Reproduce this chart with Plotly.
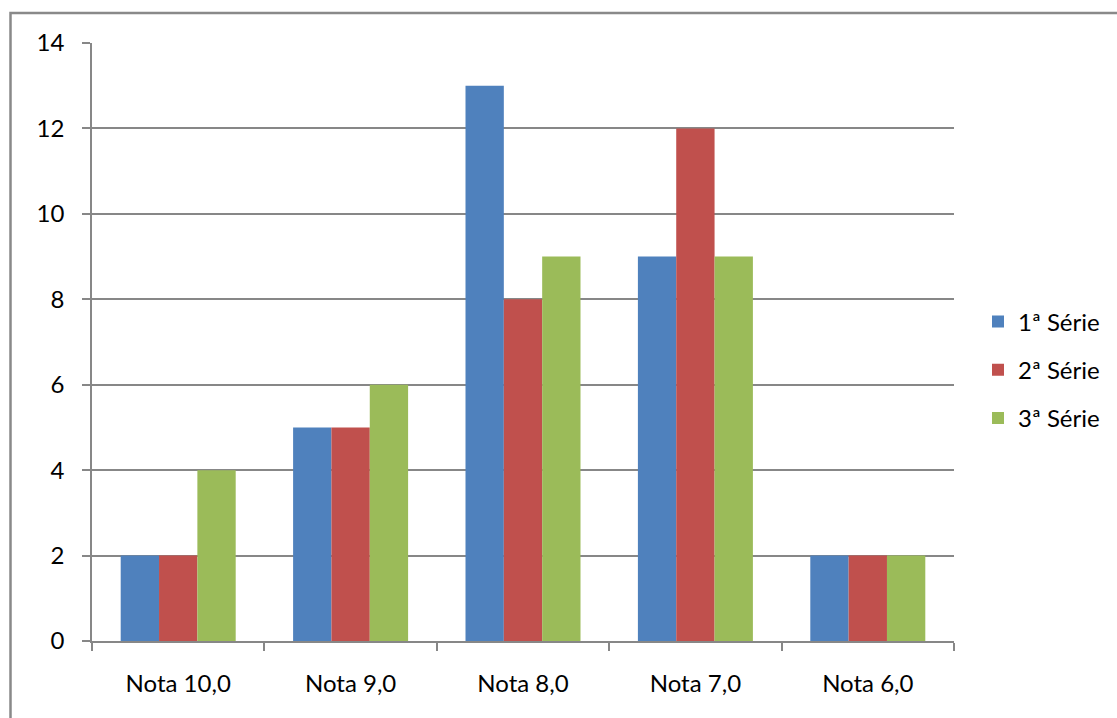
import plotly.graph_objects as go

categories = ["Nota 10,0", "Nota 9,0", "Nota 8,0", "Nota 7,0", "Nota 6,0"]
serie_1 = [2, 5, 13, 9, 2]
serie_2 = [2, 5, 8, 12, 2]
serie_3 = [4, 6, 9, 9, 2]
series_names = ["1ª Série", "2ª Série", "3ª Série"]
series_colors = ["#4F81BD", "#C0504D", "#9BBB59"]
y_ticks = [0, 2, 4, 6, 8, 10, 12, 14]

FONT = "Lato"
GRID = "#878787"

fig = go.Figure()
for name, values, color in zip(series_names, [serie_1, serie_2, serie_3], series_colors):
    fig.add_trace(go.Bar(
        x=categories, y=values, name=name, legendgroup=name,
        marker=dict(color=color, line=dict(width=0)),
    ))

W, H = 1117, 718
L, R, T, B = 92, 163, 43, 77
pw, ph = W - L - R, H - T - B

fig.update_layout(
    width=W, height=H,
    margin=dict(l=L, r=R, t=T, b=B),
    paper_bgcolor="white", plot_bgcolor="white",
    barmode="group", bargap=0.333, bargroupgap=0,
    font=dict(family=FONT, size=24, color="black"),
    legend=dict(
        x=(978 - L) / pw, xanchor="left", y=(H - B - 370) / ph, yanchor="middle",
        font=dict(family=FONT, size=24, color="black"),
        tracegroupgap=14, itemwidth=30, bgcolor="rgba(0,0,0,0)",
    ),
    xaxis=dict(
        showline=True, linecolor=GRID, linewidth=1.5,
        ticks="outside", tickson="boundaries", ticklen=8, tickcolor=GRID, tickwidth=1.5,
        showgrid=False, ticklabelstandoff=20,
    ),
    yaxis=dict(
        range=[0, 14], tickvals=y_ticks,
        showline=True, linecolor=GRID, linewidth=1.5,
        showgrid=True, gridcolor=GRID, gridwidth=1.5,
        ticks="outside", ticklen=8, tickcolor=GRID, tickwidth=1.5,
        zeroline=False, ticklabelstandoff=13,
    ),
    showlegend=True,
)

# chart frame (top and left edges visible)
fig.add_shape(
    type="rect", xref="paper", yref="paper",
    x0=(10.5 - L) / pw, x1=(W + 20 - L) / pw,
    y0=-(40 + B) / ph, y1=(H - B - 13) / ph,
    line=dict(color="#898989", width=2.5), fillcolor="rgba(0,0,0,0)", layer="below",
)

fig.write_html("out.html")
